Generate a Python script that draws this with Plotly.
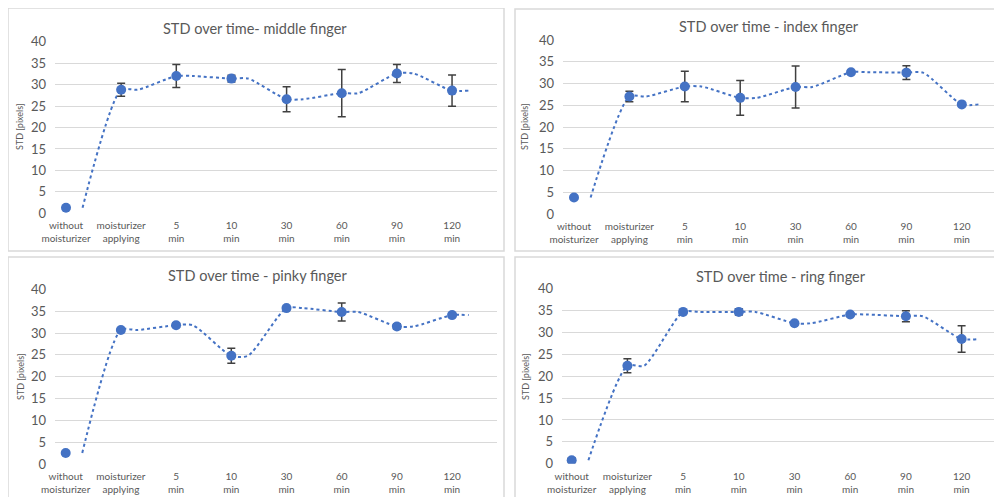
import plotly.graph_objects as go

categories = ["without<br>moisturizer", "moisturizer<br>applying", "5<br>min", "10<br>min",
              "30<br>min", "60<br>min", "90<br>min", "120<br>min"]
titles = ["STD over time- middle finger", "STD over time - index finger",
          "STD over time - pinky finger", "STD over time - ring finger"]
y_title = "STD [pixels]"
y_ticks = [0, 5, 10, 15, 20, 25, 30, 35, 40]

middle_mean = [1.3, 28.8, 32.0, 31.4, 26.6, 28.0, 32.6, 28.6]
middle_err = [0.2, 1.5, 2.7, 0.8, 2.9, 5.5, 2.1, 3.65]
index_mean = [3.8, 27.0, 29.3, 26.7, 29.2, 32.6, 32.5, 25.2]
index_err = [0.3, 1.2, 3.5, 4.0, 4.85, 0.4, 1.6, 0.3]
pinky_mean = [2.6, 30.7, 31.8, 24.8, 35.7, 34.8, 31.5, 34.1]
pinky_err = [0.3, 0.3, 0.5, 1.7, 0.3, 2.05, 0.6, 0.4]
ring_mean = [0.8, 22.4, 34.7, 34.7, 32.1, 34.1, 33.7, 28.5]
ring_err = [0.5, 1.6, 0.3, 0.7, 0.3, 0.3, 1.25, 3.05]

series = [(middle_mean, middle_err), (index_mean, index_err),
          (pinky_mean, pinky_err), (ring_mean, ring_err)]

# page offset from body margin
OX, OY = 8, 8
W, H = 1002 - OX, 497 - OY
FONT = "Lato"
BLUE = "#4472C4"
GREY = "#595959"


def px(x):
    return (x - OX) / W


def py(y):
    return 1 - (y - OY) / H


# panel geometry in window pixels (layout only)
panels = [
    dict(l=55, r=497, top=41.7, bot=213.3, x0=66, dx=55.15, box=(8, 8, 504, 251), tpos=(255, 29), ypos=(20, 127)),
    dict(l=563, r=1002, top=40, bot=214, x0=574, dx=55.4, box=(515, 9, 1012, 251), tpos=(769, 26), ypos=(525, 127)),
    dict(l=55, r=497, top=289.3, bot=464.3, x0=65.7, dx=55.2, box=(8, 257, 504, 510), tpos=(258, 275), ypos=(20, 377)),
    dict(l=562, r=1002, top=288.7, bot=463.7, x0=571.7, dx=55.7, box=(515, 257, 1012, 510), tpos=(781, 276), ypos=(525, 377)),
]

OFF = 0.3

fig = go.Figure()
shapes = []
annotations = []
layout = {}
for k, ((mean, err), p) in enumerate(zip(series, panels)):
    n = k + 1
    xa = "x" if n == 1 else f"x{n}"
    ya = "y" if n == 1 else f"y{n}"
    xs = list(range(len(categories)))
    # smoothed dotted trend path
    lx, ly = [], []
    for i, v in enumerate(mean):
        if i > 0:
            lx.append(i); ly.append(v)
        lx.append(i + OFF); ly.append(v)
    fig.add_trace(go.Scatter(x=lx, y=ly, mode="lines", xaxis=xa, yaxis=ya,
                             line=dict(color=BLUE, width=2, dash="dot", shape="spline", smoothing=0.7),
                             hoverinfo="skip", showlegend=False))
    fig.add_trace(go.Scatter(x=xs, y=mean, mode="markers", xaxis=xa, yaxis=ya,
                             marker=dict(color=BLUE, size=10),
                             error_y=dict(type="data", array=err, visible=True, color="#404040",
                                          thickness=1.5, width=4),
                             showlegend=False))
    xr = [(p["l"] - p["x0"]) / p["dx"], (p["r"] - p["x0"]) / p["dx"]]
    key_x = "xaxis" if n == 1 else f"xaxis{n}"
    key_y = "yaxis" if n == 1 else f"yaxis{n}"
    layout[key_x] = dict(domain=[px(p["l"]), min(1.0, px(p["r"]))], anchor=ya, automargin=False,
                         range=[xr[0], xr[0] + (min(1.0, px(p["r"])) - px(p["l"])) * W / p["dx"]],
                         tickvals=xs, ticktext=categories, showgrid=False, zeroline=False,
                         showline=False, ticks="", ticklabelstandoff=5,
                         tickfont=dict(family=FONT, size=10, color=GREY),
                         fixedrange=True)
    layout[key_y] = dict(domain=[py(p["bot"]), py(p["top"])], range=[0, 40], anchor=xa,
                         automargin=False,
                         tickvals=y_ticks, gridcolor="#d9d9d9", gridwidth=1, zeroline=False,
                         showline=False, ticks="", ticklabelstandoff=8,
                         tickfont=dict(family=FONT, size=13, color=GREY), fixedrange=True)
    bx0, by0, bx1, by1 = p["box"]
    shapes.append(dict(type="rect", xref="paper", yref="paper",
                       x0=px(bx0), x1=px(bx1), y0=py(by1), y1=py(by0),
                       line=dict(color="#d9d9d9", width=1.5), fillcolor="rgba(0,0,0,0)", layer="below"))
    annotations.append(dict(text=titles[k], xref="paper", yref="paper",
                            x=px(p["tpos"][0]), y=py(p["tpos"][1]), xanchor="center", yanchor="middle",
                            showarrow=False, font=dict(family=FONT, size=14.5, color=GREY)))
    annotations.append(dict(text=y_title, xref="paper", yref="paper", textangle=-90,
                            x=px(p["ypos"][0]), y=py(p["ypos"][1]), xanchor="center", yanchor="middle",
                            showarrow=False, font=dict(family=FONT, size=9, color=GREY)))

fig.update_layout(width=W, height=H, margin=dict(l=0, r=0, t=0, b=0, autoexpand=False),
                  paper_bgcolor="white", plot_bgcolor="white",
                  shapes=shapes, annotations=annotations, **layout)
fig.write_html("out.html")
